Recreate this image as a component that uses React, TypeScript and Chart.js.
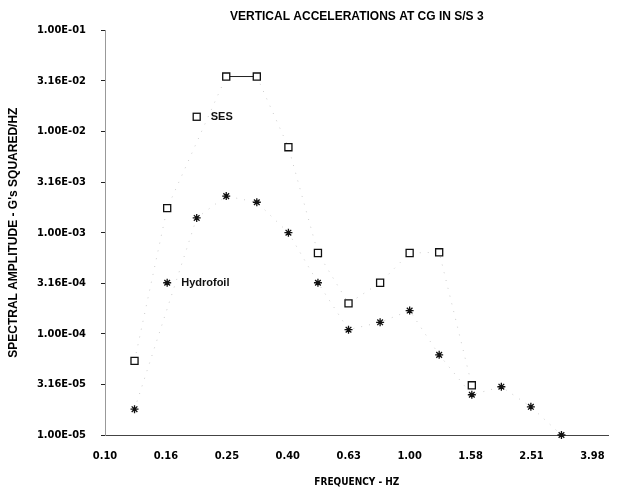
import React, { useEffect, useRef } from "react";
import { Chart, registerables } from "chart.js";

Chart.register(...registerables);

// 1/3-octave band centre frequencies (Hz) and spectral amplitudes (g^2/Hz)
const freqSES = [0.125, 0.16, 0.25, 0.315, 0.4, 0.5, 0.63, 0.8, 1.0, 1.25, 1.6];
const ampSES = [5.4e-5, 1.75e-3, 3.5e-2, 3.5e-2, 7.0e-3, 6.3e-4, 2.0e-4, 3.2e-4, 6.3e-4, 6.4e-4, 3.1e-5];

const freqHydrofoil = [0.125, 0.2, 0.25, 0.315, 0.4, 0.5, 0.63, 0.8, 1.0, 1.25, 1.6, 2.0, 2.5, 3.15];
const ampHydrofoil = [1.8e-5, 1.4e-3, 2.3e-3, 2.0e-3, 1.0e-3, 3.2e-4, 1.1e-4, 1.3e-4, 1.7e-4, 6.2e-5, 2.5e-5, 3.0e-5, 1.9e-5, 1.0e-5];

const xTickValues = [0.1, 0.1585, 0.2512, 0.3981, 0.631, 1.0, 1.585, 2.512, 3.981];
const xTickLabels = ["0.10", "0.16", "0.25", "0.40", "0.63", "1.00", "1.58", "2.51", "3.98"];

const yTickValues = [1e-5, 3.1623e-5, 1e-4, 3.1623e-4, 1e-3, 3.1623e-3, 1e-2, 3.1623e-2, 1e-1];
const yTickLabels = ["1.00E-05", "3.16E-05", "1.00E-04", "3.16E-04", "1.00E-03", "3.16E-03", "1.00E-02", "3.16E-02", "1.00E-01"];

// in-plot legend entries (anchored in data coordinates)
const legendLabels = ["SES", "Hydrofoil"];
const legendFreq = [0.2, 0.16];
const legendAmp = [1.4e-2, 3.2e-4];

const FONT = "'Liberation Sans', Arial, sans-serif";
const COND = "'DejaVu Sans Condensed', 'Liberation Sans Narrow', sans-serif";

function drawStar(ctx: CanvasRenderingContext2D, x: number, y: number, r: number) {
  ctx.beginPath();
  ctx.moveTo(x - r, y);
  ctx.lineTo(x + r, y);
  ctx.moveTo(x, y - r);
  ctx.lineTo(x, y + r);
  const d = r * Math.SQRT1_2;
  ctx.moveTo(x - d, y - d);
  ctx.lineTo(x + d, y + d);
  ctx.moveTo(x - d, y + d);
  ctx.lineTo(x + d, y - d);
  ctx.stroke();
}

const inPlotLegend = {
  id: "inPlotLegend",
  afterDatasetsDraw(chart: any) {
    const { ctx, scales } = chart;
    ctx.save();
    ctx.strokeStyle = "#111";
    ctx.fillStyle = "#111";
    ctx.lineWidth = 1.3;
    legendLabels.forEach((label, i) => {
      const px = scales.x.getPixelForValue(legendFreq[i]);
      const py = scales.y.getPixelForValue(legendAmp[i]);
      if (i === 0) {
        ctx.strokeRect(px - 3.5, py - 3.5, 7, 7);
      } else {
        drawStar(ctx, px, py, 4);
      }
      ctx.font = `bold 11px ${FONT}`;
      ctx.textAlign = "left";
      ctx.textBaseline = "middle";
      ctx.fillText(label, px + 14, py);
    });
    ctx.restore();
  },
};

export default function App() {
  const ref = useRef<HTMLCanvasElement | null>(null);

  useEffect(() => {
    if (!ref.current) return;
    const chart = new Chart(ref.current, {
      type: "line",
      data: {
        datasets: [
          {
            label: "SES",
            data: freqSES.map((f, i) => ({ x: f, y: ampSES[i] })),
            borderColor: "#ccc",
            borderWidth: 1,
            borderDash: [1, 7],
            pointStyle: "rect",
            pointRadius: 5,
            pointBorderWidth: 1.3,
            pointBorderColor: "#111",
            pointBackgroundColor: "#fff",
            clip: false,
            segment: {
              borderDash: (c: any) => (c.p0DataIndex === 2 ? [] : [1, 7]),
              borderColor: (c: any) => (c.p0DataIndex === 2 ? "#222" : "#ccc"),
            },
          } as any,
          {
            label: "Hydrofoil",
            data: freqHydrofoil.map((f, i) => ({ x: f, y: ampHydrofoil[i] })),
            borderColor: "#ccc",
            borderWidth: 1,
            borderDash: [1, 7],
            pointStyle: "star",
            pointRadius: 4,
            pointBorderWidth: 1.3,
            pointBorderColor: "#111",
            clip: false,
          } as any,
        ],
      },
      options: {
        animation: false,
        responsive: false,
        maintainAspectRatio: false,
        layout: { padding: { top: 0, right: 5, bottom: 0, left: 0 } },
        plugins: {
          legend: { display: false },
          tooltip: { enabled: false },
          title: {
            display: true,
            text: "VERTICAL ACCELERATIONS AT CG IN S/S 3",
            fullSize: false,
            color: "#000",
            font: { family: FONT, size: 12, weight: "bold" },
            padding: { top: 9, bottom: 7 },
          },
        },
        scales: {
          x: {
            type: "logarithmic",
            min: 0.1,
            max: 4.5,
            afterFit: (s: any) => {
              s.height = 55;
            },
            afterBuildTicks: (s: any) => {
              s.ticks = xTickValues.map((v) => ({ value: v }));
            },
            ticks: {
              autoSkip: false,
              maxRotation: 0,
              color: "#000",
              padding: 15,
              font: { family: COND, size: 11, weight: "bold" },
              callback: (_v: any, i: number) => xTickLabels[i],
            },
            grid: { display: false, drawTicks: false },
            border: { display: true, color: "#444", dash: [6, 4], width: 1 },
            title: {
              display: true,
              text: "FREQUENCY - HZ",
              color: "#000",
              font: { family: COND, size: 10, weight: "bold" },
              padding: { top: 0, bottom: 2 },
            },
          },
          y: {
            type: "logarithmic",
            min: 1e-5,
            max: 1e-1,
            afterFit: (s: any) => {
              s.width = 105;
            },
            afterBuildTicks: (s: any) => {
              s.ticks = yTickValues.map((v) => ({ value: v }));
            },
            ticks: {
              autoSkip: false,
              color: "#000",
              padding: 15,
              font: { family: COND, size: 11, weight: "bold" },
              callback: (_v: any, i: number) => yTickLabels[i],
            },
            grid: {
              display: true,
              drawOnChartArea: false,
              drawTicks: true,
              tickLength: 4,
              color: "#222",
            },
            border: { display: true, color: "#999", dash: [2, 5], width: 1 },
            title: {
              display: true,
              text: "SPECTRAL AMPLITUDE - G's SQUARED/HZ",
              color: "#000",
              font: { family: FONT, size: 12, weight: "bold" },
              padding: { top: 6, bottom: 0 },
            },
          },
        },
      },
      plugins: [inPlotLegend],
    } as any);
    return () => chart.destroy();
  }, []);

  return (
    <div style={{ position: "absolute", left: 0, top: 0, width: 620, height: 490, background: "#fff" }}>
      <canvas ref={ref} width={620} height={490} style={{ display: "block", width: 620, height: 490 }} />
    </div>
  );
}
